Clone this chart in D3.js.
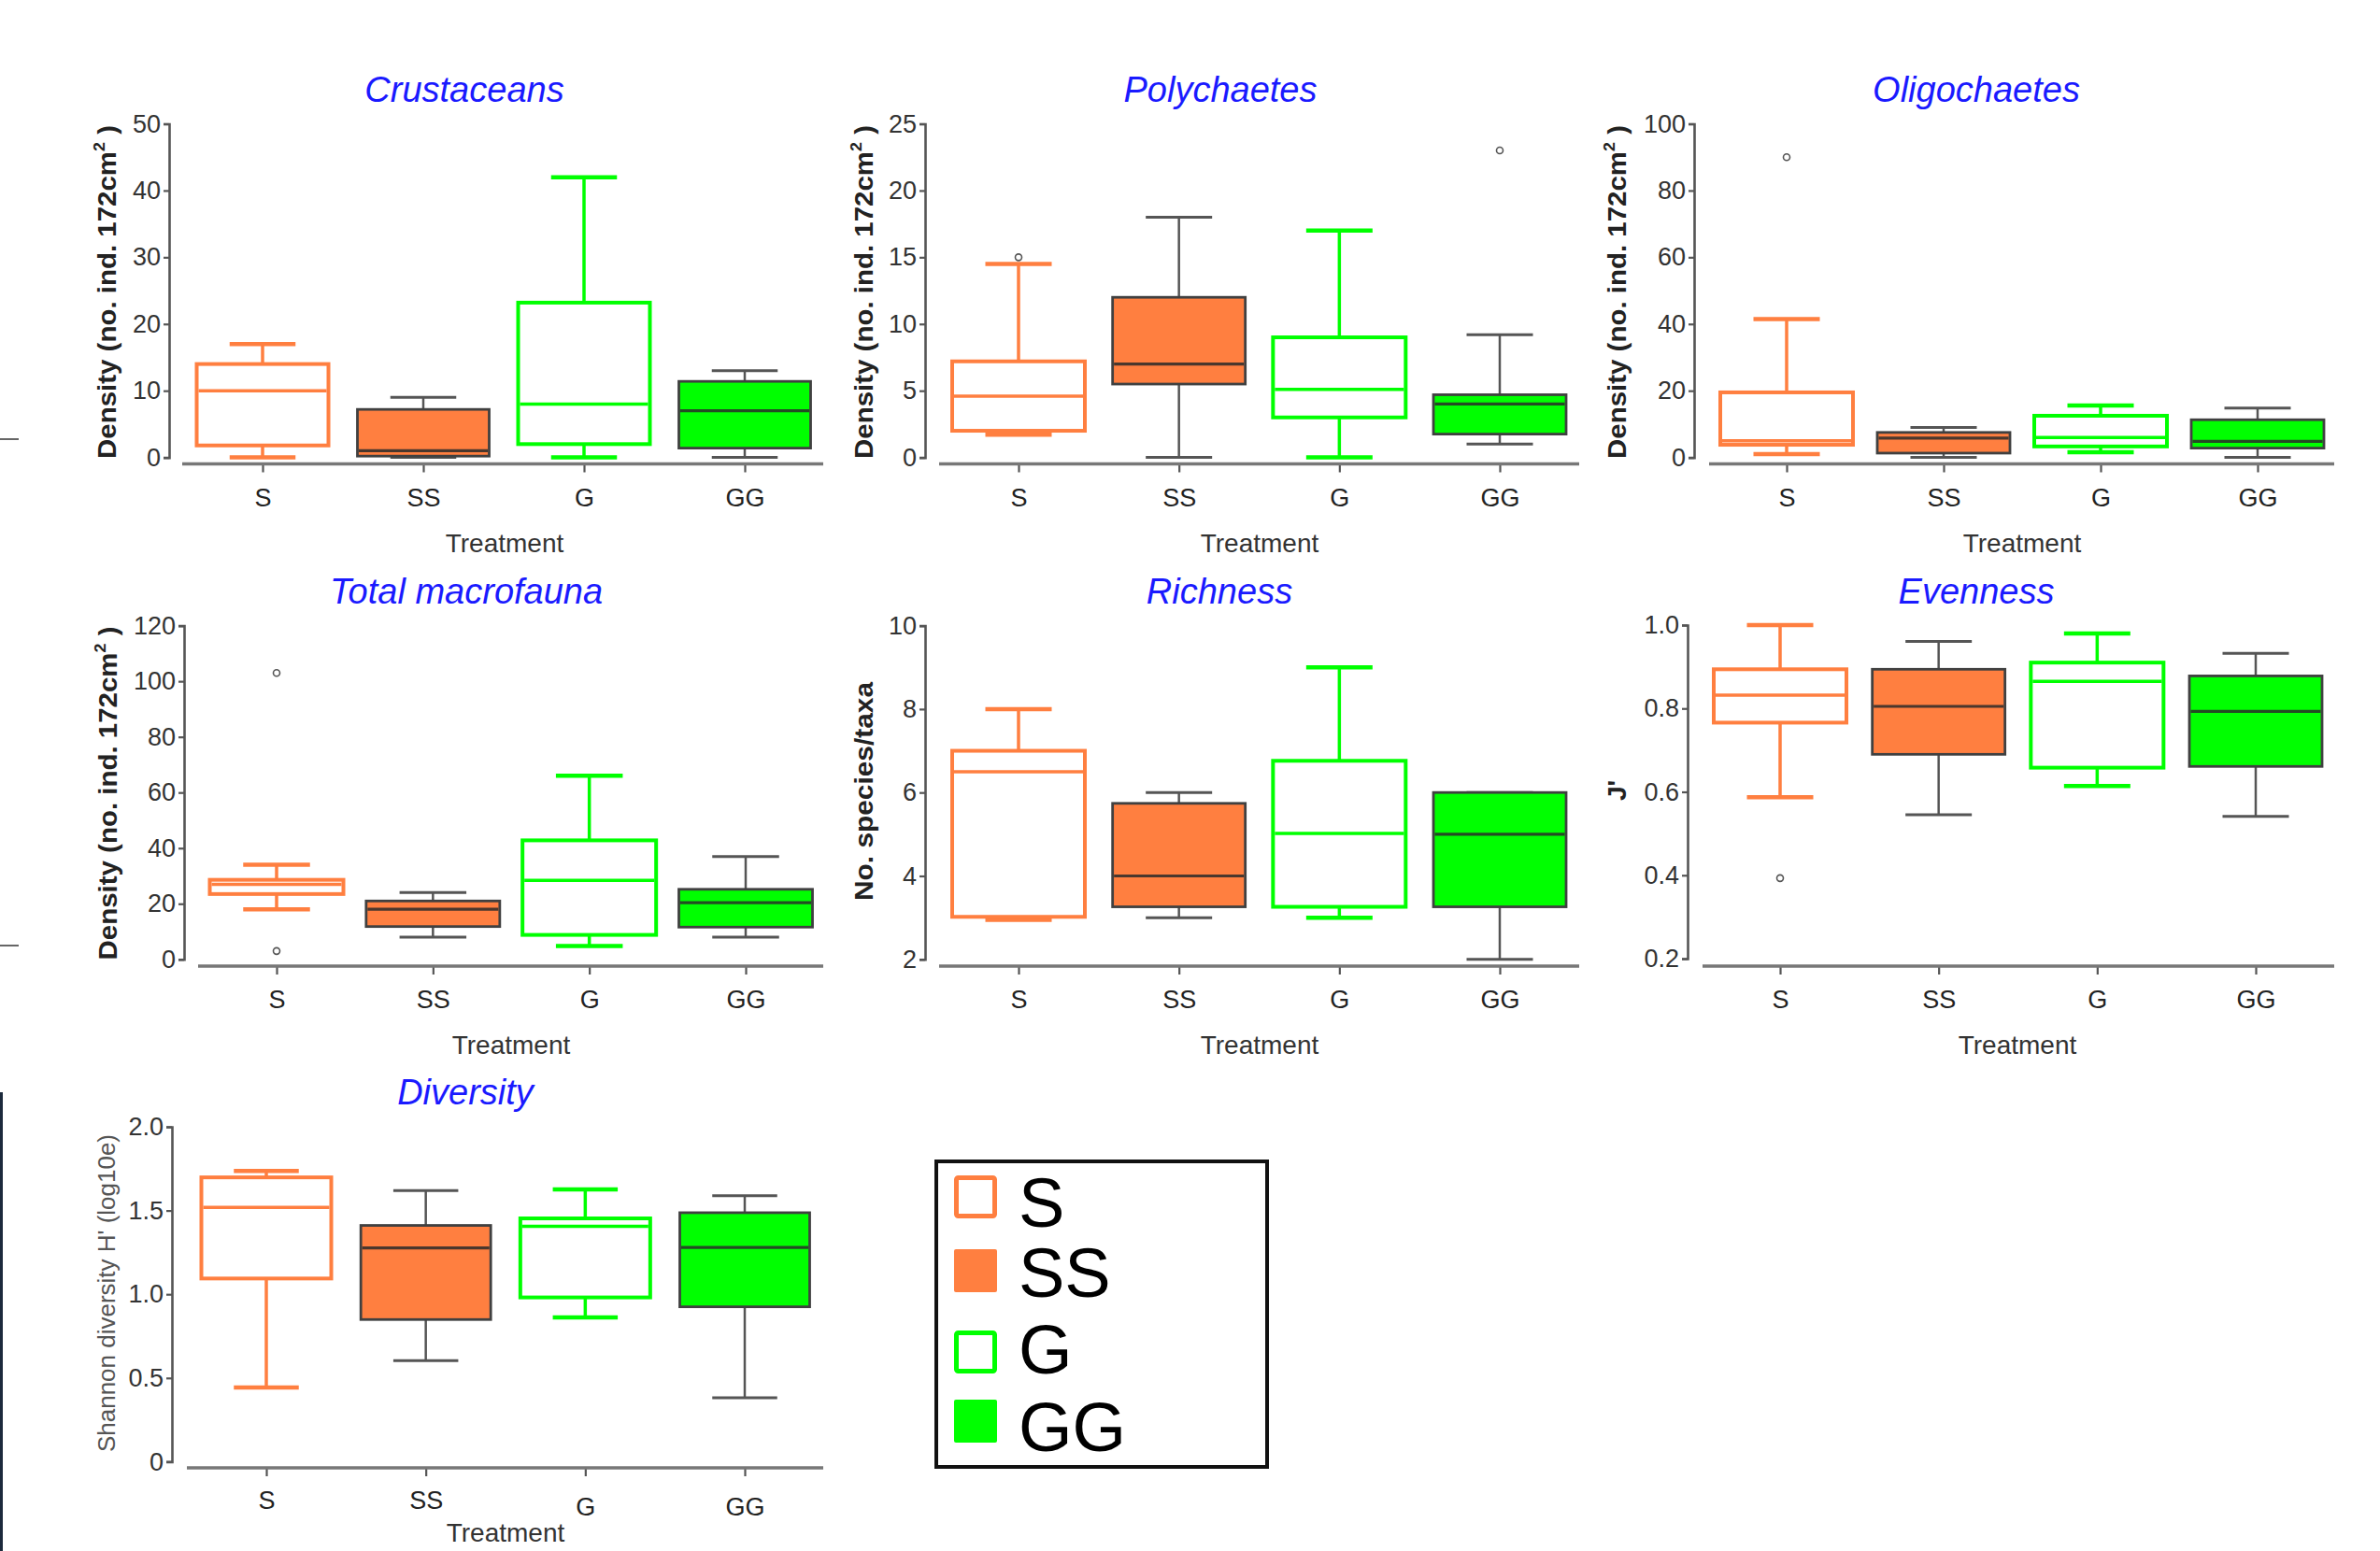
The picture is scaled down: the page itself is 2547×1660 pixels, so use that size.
<!DOCTYPE html>
<html>
<head>
<meta charset="utf-8">
<script src="https://cdn.jsdelivr.net/npm/d3@7"></script>
<style>
  html, body { margin: 0; padding: 0; background: #fff; }
  svg { display: block; }
  text { font-family: "Liberation Sans", Arial, sans-serif; }
</style>
</head>
<body>
<svg id="chart" width="2547" height="1660"></svg>
<script>
// ---------------- DATA ----------------
const categories = ["S", "SS", "G", "GG"];

// five-number summaries [min, q1, median, q3, max] per treatment
const crustaceans = [[0, 1.8, 10, 14, 17], [0, 0.2, 1, 7.2, 9], [0, 2, 8, 23.2, 42], [0, 1.4, 7, 11.4, 13]];
const crustaceansOut = [[], [], [], []];
const polychaetes = [[1.7, 2.0, 4.6, 7.2, 14.5], [0, 5.5, 7, 12, 18], [0, 3, 5.1, 9, 17], [1, 1.75, 4, 4.7, 9.2]];
const polychaetesOut = [[15], [], [], [23]];
const oligochaetes = [[1, 3.8, 5, 19.5, 41.5], [0, 1.3, 5.8, 7.5, 9], [1.6, 3.3, 6, 12.5, 15.6], [0, 2.8, 4.8, 11.3, 14.8]];
const oligochaetesOut = [[90], [], [], []];
const totalMacrofauna = [[18, 23.5, 27, 28.6, 34], [8, 11.8, 18, 21, 24], [4.8, 8.8, 28.4, 42.8, 66], [8, 11.6, 20.4, 25.2, 37]];
const totalMacrofaunaOut = [[103, 3], [], [], []];
const richness = [[2.95, 3.02, 6.5, 7.0, 8.0], [3, 3.26, 4, 5.74, 6], [3, 3.26, 5.02, 6.76, 9], [2, 3.26, 5, 6, 6]];
const richnessOut = [[], [], [], []];
const evenness = [[0.587, 0.766, 0.832, 0.894, 1.0], [0.545, 0.69, 0.805, 0.894, 0.961], [0.614, 0.658, 0.865, 0.91, 0.98], [0.541, 0.661, 0.793, 0.878, 0.932]];
const evennessOut = [[0.393], [], [], []];
const diversity = [[0.443, 1.094, 1.519, 1.698, 1.736], [0.604, 0.849, 1.277, 1.411, 1.619], [0.862, 0.981, 1.406, 1.453, 1.626], [0.381, 0.925, 1.279, 1.487, 1.589]];
const diversityOut = [[], [], [], []];

// axis ticks
const crustTicks = [0, 10, 20, 30, 40, 50];
const polyTicks = [0, 5, 10, 15, 20, 25];
const oligoTicks = [0, 20, 40, 60, 80, 100];
const totalTicks = [0, 20, 40, 60, 80, 100, 120];
const richTicks = [2, 4, 6, 8, 10];
const evenTicks = [0.2, 0.4, 0.6, 0.8, 1.0];
const evenTickLabels = ["0.2", "0.4", "0.6", "0.8", "1.0"];
const divTicks = [0, 0.5, 1.0, 1.5, 2.0];
const divTickLabels = ["0", "0.5", "1.0", "1.5", "2.0"];

const titles = ["Crustaceans", "Polychaetes", "Oligochaetes", "Total macrofauna", "Richness", "Evenness", "Diversity"];
const xTitle = "Treatment";

// ---------------- LAYOUT ----------------
const orange = "#FF7F40", green = "#00FF00";
const dark = "#404040";

const panels = [
  {title: titles[0], data: crustaceans, out: crustaceansOut, ticks: crustTicks, fmt: null, domain: [0, 50],
   ax: 181, top: 132.5, bot: 489.6, axisY: 496.5, xa0: 195, xa1: 881, c0: 281, c1: 797, bw: 141,
   titleX: 497, titleY: 109, ylab: "density", ylabX: 123.5, ylabY: 312.5, ylabLen: 357, treatX: 540, treatY: 591, labDy: [45, 45, 45, 45]},
  {title: titles[1], data: polychaetes, out: polychaetesOut, ticks: polyTicks, fmt: null, domain: [0, 25],
   ax: 990, top: 132.5, bot: 489.6, axisY: 496.5, xa0: 1005, xa1: 1690, c0: 1090, c1: 1605, bw: 142,
   titleX: 1306, titleY: 109, ylab: "density", ylabX: 934, ylabY: 312.5, ylabLen: 357, treatX: 1348, treatY: 591, labDy: [45, 45, 45, 45]},
  {title: titles[2], data: oligochaetes, out: oligochaetesOut, ticks: oligoTicks, fmt: null, domain: [0, 100],
   ax: 1813, top: 132.5, bot: 489.6, axisY: 496.5, xa0: 1829, xa1: 2498, c0: 1912, c1: 2416, bw: 142,
   titleX: 2115, titleY: 109, ylab: "density", ylabX: 1740, ylabY: 312.5, ylabLen: 357, treatX: 2164, treatY: 591, labDy: [45, 45, 45, 45]},
  {title: titles[3], data: totalMacrofauna, out: totalMacrofaunaOut, ticks: totalTicks, fmt: null, domain: [0, 120],
   ax: 197, top: 669.6, bot: 1026.8, axisY: 1034, xa0: 212, xa1: 881, c0: 296, c1: 798, bw: 143,
   titleX: 499, titleY: 646, ylab: "density", ylabX: 125, ylabY: 849, ylabLen: 357, treatX: 547, treatY: 1128, labDy: [45, 45, 45, 45]},
  {title: titles[4], data: richness, out: richnessOut, ticks: richTicks, fmt: null, domain: [2, 10],
   ax: 990, top: 669.6, bot: 1026.8, axisY: 1034, xa0: 1005, xa1: 1690, c0: 1090, c1: 1605, bw: 142,
   titleX: 1305, titleY: 646, ylab: "No. species/taxa", ylabX: 934, ylabY: 847, ylabLen: 234, treatX: 1348, treatY: 1128, labDy: [45, 45, 45, 45]},
  {title: titles[5], data: evenness, out: evennessOut, ticks: evenTicks, fmt: evenTickLabels, domain: [0.2, 1.0],
   ax: 1806, top: 669, bot: 1026, axisY: 1034, xa0: 1822, xa1: 2498, c0: 1905, c1: 2414, bw: 142,
   titleX: 2115, titleY: 646, ylab: "J'", ylabX: 1740, ylabY: 846, ylabLen: null, treatX: 2159, treatY: 1128, labDy: [45, 45, 45, 45]},
  {title: titles[6], data: diversity, out: diversityOut, ticks: divTicks, fmt: divTickLabels, domain: [0, 2.0],
   ax: 184, top: 1206, bot: 1564.4, axisY: 1571, xa0: 200, xa1: 881, c0: 285, c1: 797, bw: 139,
   titleX: 498, titleY: 1182, ylab: "shannon", ylabX: 123, ylabY: 1384, ylabLen: 340, treatX: 541, treatY: 1650, labDy: [44, 44, 51, 51]}
];

const svg = d3.select("#chart");
svg.append("rect").attr("width", 2547).attr("height", 1660).attr("fill", "#fff");

// edge artifacts of the original figure
svg.append("line").attr("x1", 0).attr("x2", 20).attr("y1", 470).attr("y2", 470).attr("stroke", "#666").attr("stroke-width", 2);
svg.append("line").attr("x1", 0).attr("x2", 20).attr("y1", 1012).attr("y2", 1012).attr("stroke", "#666").attr("stroke-width", 2);
svg.append("line").attr("x1", 1.5).attr("x2", 1.5).attr("y1", 1169).attr("y2", 1660).attr("stroke", "#1c2a3c").attr("stroke-width", 3);

panels.forEach(p => {
  const g = svg.append("g");
  const y = d3.scaleLinear().domain(p.domain).range([p.bot, p.top]);
  const x = d3.scalePoint().domain(categories).range([p.c0, p.c1]);

  // title
  g.append("text").attr("x", p.titleX).attr("y", p.titleY).attr("text-anchor", "middle")
    .attr("font-size", 38).attr("font-style", "italic").attr("fill", "#1a1aff").text(p.title);

  // y axis
  const yAxis = d3.axisLeft(y).tickValues(p.ticks).tickSize(6).tickPadding(3)
    .tickFormat((d, i) => p.fmt ? p.fmt[i] : d3.format("d")(d));
  const ya = g.append("g").attr("transform", `translate(${p.ax},0)`).call(yAxis);
  ya.select(".domain").attr("stroke", "#555").attr("stroke-width", 2.6);
  ya.selectAll(".tick line").attr("stroke", "#555").attr("stroke-width", 2.2);
  ya.selectAll(".tick text").attr("font-size", 27).attr("fill", "#333").attr("font-family", "Liberation Sans, Arial, sans-serif");

  // x axis
  const xAxis = d3.axisBottom(x).tickSize(9).tickSizeOuter(0);
  const xa = g.append("g").attr("transform", `translate(0,${p.axisY})`).call(xAxis);
  xa.select(".domain").remove();
  xa.selectAll(".tick line").attr("stroke", "#555").attr("stroke-width", 2.2);
  xa.selectAll(".tick text").attr("font-size", 27).attr("fill", "#222")
    .attr("font-family", "Liberation Sans, Arial, sans-serif")
    .attr("dy", null).attr("y", (d, i) => p.labDy[i]);
  g.append("line").attr("x1", p.xa0).attr("x2", p.xa1).attr("y1", p.axisY).attr("y2", p.axisY)
    .attr("stroke", "#777").attr("stroke-width", 3.5);

  // x title
  g.append("text").attr("x", p.treatX).attr("y", p.treatY).attr("text-anchor", "middle")
    .attr("font-size", 28).attr("fill", "#333").text(xTitle);

  // y title
  const yl = g.append("text").attr("transform", `translate(${p.ylabX},${p.ylabY}) rotate(-90)`)
    .attr("text-anchor", "middle").attr("fill", "#222");
  if (p.ylab === "density") {
    yl.attr("font-size", 28).attr("font-weight", "bold");
    yl.append("tspan").text("Density (no. ind. 172cm");
    yl.append("tspan").attr("font-size", 17).attr("dy", -12).text("2");
    yl.append("tspan").attr("dy", 12).text(" )");
  } else if (p.ylab === "shannon") {
    yl.attr("font-size", 26).attr("fill", "#555").text("Shannon diversity H' (log10e)");
  } else {
    yl.attr("font-size", 28).attr("font-weight", "bold").text(p.ylab);
  }
  if (p.ylabLen) yl.attr("textLength", p.ylabLen).attr("lengthAdjust", "spacingAndGlyphs");

  // boxes
  categories.forEach((c, i) => {
    const [mn, q1, md, q3, mx] = p.data[i];
    const cx = x(c), half = p.bw / 2, capHalf = p.bw / 4;
    const filled = i % 2 === 1;
    const col = i < 2 ? orange : green;
    const lc = filled ? "#555" : col;
    const bg = g.append("g");
    const lw = filled ? 2.5 : 3.5;
    bg.append("line").attr("x1", cx).attr("x2", cx).attr("y1", y(q3)).attr("y2", y(mx)).attr("stroke", lc).attr("stroke-width", lw);
    bg.append("line").attr("x1", cx).attr("x2", cx).attr("y1", y(q1)).attr("y2", y(mn)).attr("stroke", lc).attr("stroke-width", lw);
    bg.append("line").attr("x1", cx - capHalf).attr("x2", cx + capHalf).attr("y1", y(mx)).attr("y2", y(mx)).attr("stroke", lc).attr("stroke-width", filled ? 3 : 4.5);
    bg.append("line").attr("x1", cx - capHalf).attr("x2", cx + capHalf).attr("y1", y(mn)).attr("y2", y(mn)).attr("stroke", lc).attr("stroke-width", filled ? 3 : 4.5);
    bg.append("rect").attr("x", cx - half).attr("y", y(q3)).attr("width", p.bw).attr("height", Math.max(0.5, y(q1) - y(q3)))
      .attr("fill", filled ? col : "#fff").attr("stroke", filled ? dark : col).attr("stroke-width", filled ? 2.8 : 4);
    bg.append("line").attr("x1", cx - half + (filled ? 1.5 : 2)).attr("x2", cx + half - (filled ? 1.5 : 2)).attr("y1", y(md)).attr("y2", y(md))
      .attr("stroke", filled ? "#2a2a2a" : col).attr("stroke-width", filled ? 3.2 : 3.5).attr("stroke-opacity", filled ? 0.85 : 1);
    p.out[i].forEach(v => {
      bg.append("circle").attr("cx", cx).attr("cy", y(v)).attr("r", 3.5)
        .attr("fill", "#fff").attr("stroke", "#555").attr("stroke-width", 1.6);
    });
  });
});

// ---------------- LEGEND ----------------
const legendY = [1258, 1337, 1424, 1498];
const legendBaseline = [1313, 1388, 1470, 1553];
const lg = svg.append("g");
lg.append("rect").attr("x", 1002).attr("y", 1243).attr("width", 354).attr("height", 327)
  .attr("fill", "#fff").attr("stroke", "#111").attr("stroke-width", 4);
categories.forEach((c, i) => {
  const filled = i % 2 === 1;
  const col = i < 2 ? orange : green;
  if (filled) {
    lg.append("rect").attr("x", 1021).attr("y", legendY[i]).attr("width", 46).attr("height", 46).attr("rx", 2).attr("fill", col);
  } else {
    lg.append("rect").attr("x", 1023.5).attr("y", legendY[i] + 2.5).attr("width", 41).attr("height", 41).attr("rx", 2)
      .attr("fill", "#fff").attr("stroke", col).attr("stroke-width", 5);
  }
  lg.append("text").attr("x", 1090).attr("y", legendBaseline[i]).attr("font-size", 74).attr("fill", "#000").text(c);
});
</script>
</body>
</html>
